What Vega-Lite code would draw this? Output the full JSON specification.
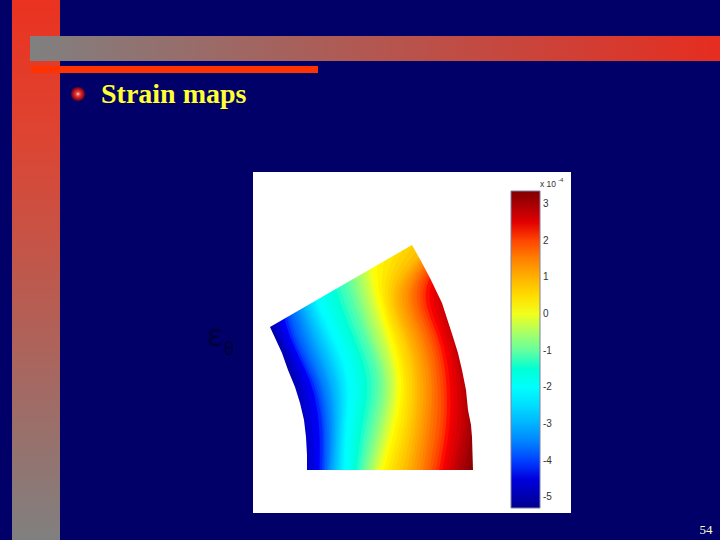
{"$schema":"https://vega.github.io/schema/vega-lite/v6.json","width":720,"height":540,"padding":0,"autosize":{"type":"none"},"background":"#000068","config":{"view":{"stroke":null}},
"datasets":{"bands":[
{"v":-5.25,"y":245,"x":254},{"v":-5.25,"y":290,"x":254},{"v":-5.25,"y":335,"x":268},{"v":-5.25,"y":380,"x":285},{"v":-5.25,"y":425,"x":290},{"v":-5.25,"y":470,"x":295},
{"v":-5.125,"y":245,"x":254},{"v":-5.125,"y":290,"x":255},{"v":-5.125,"y":335,"x":270.5},{"v":-5.125,"y":380,"x":287.5},{"v":-5.125,"y":425,"x":293},{"v":-5.125,"y":470,"x":297.5},
{"v":-5,"y":245,"x":254},{"v":-5,"y":290,"x":256},{"v":-5,"y":335,"x":273},{"v":-5,"y":380,"x":290},{"v":-5,"y":425,"x":296},{"v":-5,"y":470,"x":300},
{"v":-4.875,"y":245,"x":254},{"v":-4.875,"y":290,"x":259},{"v":-4.875,"y":335,"x":275.5},{"v":-4.875,"y":380,"x":293},{"v":-4.875,"y":425,"x":299.5},{"v":-4.875,"y":470,"x":303},
{"v":-4.75,"y":245,"x":254},{"v":-4.75,"y":290,"x":262},{"v":-4.75,"y":335,"x":278},{"v":-4.75,"y":380,"x":296},{"v":-4.75,"y":425,"x":303},{"v":-4.75,"y":470,"x":306},
{"v":-4.625,"y":245,"x":254},{"v":-4.625,"y":290,"x":265},{"v":-4.625,"y":335,"x":280},{"v":-4.625,"y":380,"x":298.5},{"v":-4.625,"y":425,"x":306},{"v":-4.625,"y":470,"x":308.5},
{"v":-4.5,"y":245,"x":254},{"v":-4.5,"y":290,"x":268},{"v":-4.5,"y":335,"x":282},{"v":-4.5,"y":380,"x":301},{"v":-4.5,"y":425,"x":309},{"v":-4.5,"y":470,"x":311},
{"v":-4.375,"y":245,"x":255},{"v":-4.375,"y":290,"x":271},{"v":-4.375,"y":335,"x":284.5},{"v":-4.375,"y":380,"x":304},{"v":-4.375,"y":425,"x":312.5},{"v":-4.375,"y":470,"x":314},
{"v":-4.25,"y":245,"x":256},{"v":-4.25,"y":290,"x":274},{"v":-4.25,"y":335,"x":287},{"v":-4.25,"y":380,"x":307},{"v":-4.25,"y":425,"x":316},{"v":-4.25,"y":470,"x":317},
{"v":-4.125,"y":245,"x":258},{"v":-4.125,"y":290,"x":277},{"v":-4.125,"y":335,"x":289.5},{"v":-4.125,"y":380,"x":309.5},{"v":-4.125,"y":425,"x":319},{"v":-4.125,"y":470,"x":319.5},
{"v":-4,"y":245,"x":260},{"v":-4,"y":290,"x":280},{"v":-4,"y":335,"x":292},{"v":-4,"y":380,"x":312},{"v":-4,"y":425,"x":322},{"v":-4,"y":470,"x":322},
{"v":-3.875,"y":245,"x":262.5},{"v":-3.875,"y":290,"x":282},{"v":-3.875,"y":335,"x":294.5},{"v":-3.875,"y":380,"x":314.5},{"v":-3.875,"y":425,"x":323.5},{"v":-3.875,"y":470,"x":323.5},
{"v":-3.75,"y":245,"x":265},{"v":-3.75,"y":290,"x":284},{"v":-3.75,"y":335,"x":297},{"v":-3.75,"y":380,"x":317},{"v":-3.75,"y":425,"x":325},{"v":-3.75,"y":470,"x":325},
{"v":-3.625,"y":245,"x":267.5},{"v":-3.625,"y":290,"x":286.5},{"v":-3.625,"y":335,"x":300},{"v":-3.625,"y":380,"x":319},{"v":-3.625,"y":425,"x":327},{"v":-3.625,"y":470,"x":326.5},
{"v":-3.5,"y":245,"x":270},{"v":-3.5,"y":290,"x":289},{"v":-3.5,"y":335,"x":303},{"v":-3.5,"y":380,"x":321},{"v":-3.5,"y":425,"x":329},{"v":-3.5,"y":470,"x":328},
{"v":-3.375,"y":245,"x":272.5},{"v":-3.375,"y":290,"x":291},{"v":-3.375,"y":335,"x":305.5},{"v":-3.375,"y":380,"x":323.5},{"v":-3.375,"y":425,"x":330.5},{"v":-3.375,"y":470,"x":329},
{"v":-3.25,"y":245,"x":275},{"v":-3.25,"y":290,"x":293},{"v":-3.25,"y":335,"x":308},{"v":-3.25,"y":380,"x":326},{"v":-3.25,"y":425,"x":332},{"v":-3.25,"y":470,"x":330},
{"v":-3.125,"y":245,"x":277.5},{"v":-3.125,"y":290,"x":295},{"v":-3.125,"y":335,"x":310.5},{"v":-3.125,"y":380,"x":328},{"v":-3.125,"y":425,"x":333.5},{"v":-3.125,"y":470,"x":331.5},
{"v":-3,"y":245,"x":280},{"v":-3,"y":290,"x":297},{"v":-3,"y":335,"x":313},{"v":-3,"y":380,"x":330},{"v":-3,"y":425,"x":335},{"v":-3,"y":470,"x":333},
{"v":-2.875,"y":245,"x":282.5},{"v":-2.875,"y":290,"x":299},{"v":-2.875,"y":335,"x":315.5},{"v":-2.875,"y":380,"x":332.5},{"v":-2.875,"y":425,"x":336.5},{"v":-2.875,"y":470,"x":334.5},
{"v":-2.75,"y":245,"x":285},{"v":-2.75,"y":290,"x":301},{"v":-2.75,"y":335,"x":318},{"v":-2.75,"y":380,"x":335},{"v":-2.75,"y":425,"x":338},{"v":-2.75,"y":470,"x":336},
{"v":-2.625,"y":245,"x":287.5},{"v":-2.625,"y":290,"x":303},{"v":-2.625,"y":335,"x":320.5},{"v":-2.625,"y":380,"x":337},{"v":-2.625,"y":425,"x":339.5},{"v":-2.625,"y":470,"x":337.5},
{"v":-2.5,"y":245,"x":290},{"v":-2.5,"y":290,"x":305},{"v":-2.5,"y":335,"x":323},{"v":-2.5,"y":380,"x":339},{"v":-2.5,"y":425,"x":341},{"v":-2.5,"y":470,"x":339},
{"v":-2.375,"y":245,"x":292.5},{"v":-2.375,"y":290,"x":307},{"v":-2.375,"y":335,"x":325.5},{"v":-2.375,"y":380,"x":341.5},{"v":-2.375,"y":425,"x":342.5},{"v":-2.375,"y":470,"x":340.5},
{"v":-2.25,"y":245,"x":295},{"v":-2.25,"y":290,"x":309},{"v":-2.25,"y":335,"x":328},{"v":-2.25,"y":380,"x":344},{"v":-2.25,"y":425,"x":344},{"v":-2.25,"y":470,"x":342},
{"v":-2.125,"y":245,"x":297.5},{"v":-2.125,"y":290,"x":311},{"v":-2.125,"y":335,"x":330.5},{"v":-2.125,"y":380,"x":346},{"v":-2.125,"y":425,"x":345.5},{"v":-2.125,"y":470,"x":343.5},
{"v":-2,"y":245,"x":300},{"v":-2,"y":290,"x":313},{"v":-2,"y":335,"x":333},{"v":-2,"y":380,"x":348},{"v":-2,"y":425,"x":347},{"v":-2,"y":470,"x":345},
{"v":-1.875,"y":245,"x":305},{"v":-1.875,"y":290,"x":317.5},{"v":-1.875,"y":335,"x":337},{"v":-1.875,"y":380,"x":352},{"v":-1.875,"y":425,"x":350},{"v":-1.875,"y":470,"x":347.5},
{"v":-1.75,"y":245,"x":310},{"v":-1.75,"y":290,"x":322},{"v":-1.75,"y":335,"x":341},{"v":-1.75,"y":380,"x":356},{"v":-1.75,"y":425,"x":353},{"v":-1.75,"y":470,"x":350},
{"v":-1.625,"y":245,"x":315},{"v":-1.625,"y":290,"x":327},{"v":-1.625,"y":335,"x":345},{"v":-1.625,"y":380,"x":359.5},{"v":-1.625,"y":425,"x":356},{"v":-1.625,"y":470,"x":352},
{"v":-1.5,"y":245,"x":320},{"v":-1.5,"y":290,"x":332},{"v":-1.5,"y":335,"x":349},{"v":-1.5,"y":380,"x":363},{"v":-1.5,"y":425,"x":359},{"v":-1.5,"y":470,"x":354},
{"v":-1.375,"y":245,"x":325},{"v":-1.375,"y":290,"x":336.5},{"v":-1.375,"y":335,"x":353},{"v":-1.375,"y":380,"x":367},{"v":-1.375,"y":425,"x":362.5},{"v":-1.375,"y":470,"x":356.5},
{"v":-1.25,"y":245,"x":330},{"v":-1.25,"y":290,"x":341},{"v":-1.25,"y":335,"x":357},{"v":-1.25,"y":380,"x":371},{"v":-1.25,"y":425,"x":366},{"v":-1.25,"y":470,"x":359},
{"v":-1.125,"y":245,"x":335},{"v":-1.125,"y":290,"x":345.5},{"v":-1.125,"y":335,"x":361},{"v":-1.125,"y":380,"x":374.5},{"v":-1.125,"y":425,"x":369},{"v":-1.125,"y":470,"x":361},
{"v":-1,"y":245,"x":340},{"v":-1,"y":290,"x":350},{"v":-1,"y":335,"x":365},{"v":-1,"y":380,"x":378},{"v":-1,"y":425,"x":372},{"v":-1,"y":470,"x":363},
{"v":-0.875,"y":245,"x":343.5},{"v":-0.875,"y":290,"x":353},{"v":-0.875,"y":335,"x":367.5},{"v":-0.875,"y":380,"x":380.5},{"v":-0.875,"y":425,"x":374.5},{"v":-0.875,"y":470,"x":365},
{"v":-0.75,"y":245,"x":347},{"v":-0.75,"y":290,"x":356},{"v":-0.75,"y":335,"x":370},{"v":-0.75,"y":380,"x":383},{"v":-0.75,"y":425,"x":377},{"v":-0.75,"y":470,"x":367},
{"v":-0.625,"y":245,"x":350.5},{"v":-0.625,"y":290,"x":359},{"v":-0.625,"y":335,"x":372.5},{"v":-0.625,"y":380,"x":385},{"v":-0.625,"y":425,"x":379.5},{"v":-0.625,"y":470,"x":369},
{"v":-0.5,"y":245,"x":354},{"v":-0.5,"y":290,"x":362},{"v":-0.5,"y":335,"x":375},{"v":-0.5,"y":380,"x":387},{"v":-0.5,"y":425,"x":382},{"v":-0.5,"y":470,"x":371},
{"v":-0.375,"y":245,"x":357.5},{"v":-0.375,"y":290,"x":365},{"v":-0.375,"y":335,"x":378},{"v":-0.375,"y":380,"x":389.5},{"v":-0.375,"y":425,"x":384},{"v":-0.375,"y":470,"x":373},
{"v":-0.25,"y":245,"x":361},{"v":-0.25,"y":290,"x":368},{"v":-0.25,"y":335,"x":381},{"v":-0.25,"y":380,"x":392},{"v":-0.25,"y":425,"x":386},{"v":-0.25,"y":470,"x":375},
{"v":-0.125,"y":245,"x":364},{"v":-0.125,"y":290,"x":370.5},{"v":-0.125,"y":335,"x":383.5},{"v":-0.125,"y":380,"x":394},{"v":-0.125,"y":425,"x":388.5},{"v":-0.125,"y":470,"x":377},
{"v":0,"y":245,"x":367},{"v":0,"y":290,"x":373},{"v":0,"y":335,"x":386},{"v":0,"y":380,"x":396},{"v":0,"y":425,"x":391},{"v":0,"y":470,"x":379},
{"v":0.125,"y":245,"x":372},{"v":0.125,"y":290,"x":376},{"v":0.125,"y":335,"x":388.5},{"v":0.125,"y":380,"x":398.5},{"v":0.125,"y":425,"x":393.5},{"v":0.125,"y":470,"x":381.5},
{"v":0.25,"y":245,"x":377},{"v":0.25,"y":290,"x":379},{"v":0.25,"y":335,"x":391},{"v":0.25,"y":380,"x":401},{"v":0.25,"y":425,"x":396},{"v":0.25,"y":470,"x":384},
{"v":0.375,"y":245,"x":387.5},{"v":0.375,"y":290,"x":382},{"v":0.375,"y":335,"x":393.5},{"v":0.375,"y":380,"x":403.5},{"v":0.375,"y":425,"x":399.5},{"v":0.375,"y":470,"x":387.5},
{"v":0.5,"y":245,"x":398},{"v":0.5,"y":290,"x":385},{"v":0.5,"y":335,"x":396},{"v":0.5,"y":380,"x":406},{"v":0.5,"y":425,"x":403},{"v":0.5,"y":470,"x":391},
{"v":0.625,"y":245,"x":406},{"v":0.625,"y":290,"x":388},{"v":0.625,"y":335,"x":399},{"v":0.625,"y":380,"x":409},{"v":0.625,"y":425,"x":406},{"v":0.625,"y":470,"x":395},
{"v":0.75,"y":245,"x":414},{"v":0.75,"y":290,"x":391},{"v":0.75,"y":335,"x":402},{"v":0.75,"y":380,"x":412},{"v":0.75,"y":425,"x":409},{"v":0.75,"y":470,"x":399},
{"v":0.875,"y":245,"x":422},{"v":0.875,"y":290,"x":394},{"v":0.875,"y":335,"x":404.5},{"v":0.875,"y":380,"x":414.5},{"v":0.875,"y":425,"x":412},{"v":0.875,"y":470,"x":403},
{"v":1,"y":245,"x":430},{"v":1,"y":290,"x":397},{"v":1,"y":335,"x":407},{"v":1,"y":380,"x":417},{"v":1,"y":425,"x":415},{"v":1,"y":470,"x":407},
{"v":1.125,"y":245,"x":432.5},{"v":1.125,"y":290,"x":400},{"v":1.125,"y":335,"x":410},{"v":1.125,"y":380,"x":420},{"v":1.125,"y":425,"x":418},{"v":1.125,"y":470,"x":410},
{"v":1.25,"y":245,"x":435},{"v":1.25,"y":290,"x":403},{"v":1.25,"y":335,"x":413},{"v":1.25,"y":380,"x":423},{"v":1.25,"y":425,"x":421},{"v":1.25,"y":470,"x":413},
{"v":1.375,"y":245,"x":437.5},{"v":1.375,"y":290,"x":406},{"v":1.375,"y":335,"x":416},{"v":1.375,"y":380,"x":426},{"v":1.375,"y":425,"x":424},{"v":1.375,"y":470,"x":416.5},
{"v":1.5,"y":245,"x":440},{"v":1.5,"y":290,"x":409},{"v":1.5,"y":335,"x":419},{"v":1.5,"y":380,"x":429},{"v":1.5,"y":425,"x":427},{"v":1.5,"y":470,"x":420},
{"v":1.625,"y":245,"x":442.5},{"v":1.625,"y":290,"x":411.5},{"v":1.625,"y":335,"x":422},{"v":1.625,"y":380,"x":431.5},{"v":1.625,"y":425,"x":430},{"v":1.625,"y":470,"x":423},
{"v":1.75,"y":245,"x":445},{"v":1.75,"y":290,"x":414},{"v":1.75,"y":335,"x":425},{"v":1.75,"y":380,"x":434},{"v":1.75,"y":425,"x":433},{"v":1.75,"y":470,"x":426},
{"v":1.875,"y":245,"x":447.5},{"v":1.875,"y":290,"x":417},{"v":1.875,"y":335,"x":428},{"v":1.875,"y":380,"x":437},{"v":1.875,"y":425,"x":436.5},{"v":1.875,"y":470,"x":429},
{"v":2,"y":245,"x":450},{"v":2,"y":290,"x":420},{"v":2,"y":335,"x":431},{"v":2,"y":380,"x":440},{"v":2,"y":425,"x":440},{"v":2,"y":470,"x":432},
{"v":2.125,"y":245,"x":452},{"v":2.125,"y":290,"x":423},{"v":2.125,"y":335,"x":434},{"v":2.125,"y":380,"x":443},{"v":2.125,"y":425,"x":443},{"v":2.125,"y":470,"x":435.5},
{"v":2.25,"y":245,"x":454},{"v":2.25,"y":290,"x":426},{"v":2.25,"y":335,"x":437},{"v":2.25,"y":380,"x":446},{"v":2.25,"y":425,"x":446},{"v":2.25,"y":470,"x":439},
{"v":2.375,"y":245,"x":457.5},{"v":2.375,"y":290,"x":430},{"v":2.375,"y":335,"x":440.5},{"v":2.375,"y":380,"x":449.5},{"v":2.375,"y":425,"x":449.5},{"v":2.375,"y":470,"x":442.5},
{"v":2.5,"y":245,"x":461},{"v":2.5,"y":290,"x":434},{"v":2.5,"y":335,"x":444},{"v":2.5,"y":380,"x":453},{"v":2.5,"y":425,"x":453},{"v":2.5,"y":470,"x":446},
{"v":2.625,"y":245,"x":465},{"v":2.625,"y":290,"x":438.5},{"v":2.625,"y":335,"x":447.5},{"v":2.625,"y":380,"x":456.5},{"v":2.625,"y":425,"x":457},{"v":2.625,"y":470,"x":449.5},
{"v":2.75,"y":245,"x":469},{"v":2.75,"y":290,"x":443},{"v":2.75,"y":335,"x":451},{"v":2.75,"y":380,"x":460},{"v":2.75,"y":425,"x":461},{"v":2.75,"y":470,"x":453},
{"v":2.875,"y":245,"x":473},{"v":2.875,"y":290,"x":447},{"v":2.875,"y":335,"x":454.5},{"v":2.875,"y":380,"x":463.5},{"v":2.875,"y":425,"x":464.5},{"v":2.875,"y":470,"x":456.5},
{"v":3,"y":245,"x":477},{"v":3,"y":290,"x":451},{"v":3,"y":335,"x":458},{"v":3,"y":380,"x":467},{"v":3,"y":425,"x":468},{"v":3,"y":470,"x":460},
{"v":3.125,"y":245,"x":481},{"v":3.125,"y":290,"x":455.5},{"v":3.125,"y":335,"x":462},{"v":3.125,"y":380,"x":470.5},{"v":3.125,"y":425,"x":472},{"v":3.125,"y":470,"x":464},
{"v":3.25,"y":245,"x":485},{"v":3.25,"y":290,"x":460},{"v":3.25,"y":335,"x":466},{"v":3.25,"y":380,"x":474},{"v":3.25,"y":425,"x":476},{"v":3.25,"y":470,"x":468}
]},
"encoding":{"x":{"field":"x","type":"quantitative","scale":{"domain":[0,720],"nice":false,"zero":false},"axis":null,"stack":null},"y":{"field":"y","type":"quantitative","scale":{"domain":[540,0],"nice":false,"zero":false},"axis":null,"stack":null}},
"layer":[
{"data":{"values":[{"x":12,"x2":60,"y":0,"y2":540}]},"mark":{"type":"rect","color":{"gradient":"linear","x1":0,"y1":0,"x2":0,"y2":1,"stops":[{"offset":0,"color":"#EA3220"},{"offset":0.25,"color":"#DE4432"},{"offset":1,"color":"#808080"}]}},"encoding":{"x2":{"field":"x2"},"y2":{"field":"y2"}}},
{"data":{"values":[{"x":30,"x2":720,"y":36,"y2":61}]},"mark":{"type":"rect","color":{"gradient":"linear","x1":0,"y1":0,"x2":1,"y2":0,"stops":[{"offset":0,"color":"#808080"},{"offset":1,"color":"#E62D20"}]}},"encoding":{"x2":{"field":"x2"},"y2":{"field":"y2"}}},
{"data":{"values":[{"x":31,"x2":318,"y":66,"y2":73}]},"mark":{"type":"rect","color":"#FF3300"},"encoding":{"x2":{"field":"x2"},"y2":{"field":"y2"}}},
{"data":{"values":[{"x":78,"y":94}]},"mark":{"type":"point","filled":true,"shape":"circle","size":200,"opacity":1,"color":{"gradient":"radial","x1":0.5,"y1":0.5,"r1":0,"x2":0.5,"y2":0.5,"r2":0.5,"stops":[{"offset":0,"color":"#FFE0E0"},{"offset":0.3,"color":"#E84040"},{"offset":0.65,"color":"#C01020"},{"offset":1,"color":"#500818"}]}}},
{"data":{"values":[{"x":101,"y":103,"t":"Strain maps"}]},"mark":{"type":"text","align":"left","baseline":"alphabetic","font":"Liberation Serif","fontWeight":"bold","fontSize":28,"color":"#FFFF33"},"encoding":{"text":{"field":"t"}}},
{"data":{"values":[{"x":253,"x2":571,"y":172,"y2":513}]},"mark":{"type":"rect","color":"#FFFFFF"},"encoding":{"x2":{"field":"x2"},"y2":{"field":"y2"}}},
{"data":{"name":"bands"},"mark":{"type":"area","orient":"horizontal","interpolate":"natural","opacity":1},"encoding":{"x2":{"datum":490},"detail":{"field":"v"},"color":{"field":"v","type":"quantitative","scale":{"domain":[-5.29,-4.2,-2.05,0.1,2.27,3.36],"range":["#00008F","#0000FF","#00FFFF","#FFFF00","#FF0000","#800000"]},"legend":{"orient":"none","legendX":511,"legendY":191,"title":null,"direction":"vertical","gradientLength":317,"gradientThickness":29,"gradientStrokeColor":"#7F7FA0","gradientStrokeWidth":1,"values":[-5,-4,-3,-2,-1,0,1,2,3],"labelFont":"Liberation Sans","labelFontSize":10,"labelColor":"#333333","labelOffset":3,"labelOverlap":false,"format":"d","labelExpr":"replace(datum.label,'−','-')"}}}},
{"data":{"values":[{"x":253,"y":327},{"x":270,"y":327},{"x":276,"y":340},{"x":282,"y":353},{"x":288,"y":370},{"x":295,"y":387},{"x":300,"y":403},{"x":304,"y":420},{"x":306,"y":437},{"x":307,"y":455},{"x":307,"y":470}]},"mark":{"type":"area","orient":"horizontal","color":"#FFFFFF","opacity":1},"encoding":{"x2":{"datum":253}}},
{"data":{"values":[{"x":412,"y":245},{"x":421,"y":261},{"x":430,"y":278},{"x":442,"y":303},{"x":453,"y":337},{"x":458,"y":353},{"x":462,"y":370},{"x":466,"y":390},{"x":468,"y":410},{"x":471,"y":425},{"x":472,"y":437},{"x":473,"y":470}]},"mark":{"type":"area","orient":"horizontal","color":"#FFFFFF","opacity":1},"encoding":{"x2":{"datum":505}}},
{"data":{"values":[{"x":253,"y":337},{"x":270,"y":327},{"x":412,"y":245},{"x":505,"y":245}]},"mark":{"type":"area","orient":"vertical","color":"#FFFFFF","opacity":1},"encoding":{"y2":{"datum":172}}},
{"data":{"values":[{"x":253,"x2":505,"y":470,"y2":513}]},"mark":{"type":"rect","color":"#FFFFFF"},"encoding":{"x2":{"field":"x2"},"y2":{"field":"y2"}}},
{"data":{"values":[{"x":540,"y":187,"t":"x 10"}]},"mark":{"type":"text","align":"left","baseline":"alphabetic","font":"Liberation Sans","fontSize":8.5,"color":"#333333"},"encoding":{"text":{"field":"t"}}},
{"data":{"values":[{"x":558,"y":182,"t":"-4"}]},"mark":{"type":"text","align":"left","baseline":"alphabetic","font":"Liberation Sans","fontSize":6,"color":"#333333"},"encoding":{"text":{"field":"t"}}},
{"data":{"values":[{"x":215,"y":346,"t":"ε"}]},"mark":{"type":"text","align":"center","baseline":"alphabetic","font":"DejaVu Sans","fontSize":30,"color":"#000038"},"encoding":{"text":{"field":"t"}}},
{"data":{"values":[{"x":229,"y":355,"t":"θ"}]},"mark":{"type":"text","align":"center","baseline":"alphabetic","font":"DejaVu Sans","fontSize":17,"color":"#000038"},"encoding":{"text":{"field":"t"}}},
{"data":{"values":[{"x":706,"y":534,"t":"54"}]},"mark":{"type":"text","align":"center","baseline":"alphabetic","font":"Liberation Serif","fontSize":13,"color":"#FFFFD8"},"encoding":{"text":{"field":"t"}}}
]}
